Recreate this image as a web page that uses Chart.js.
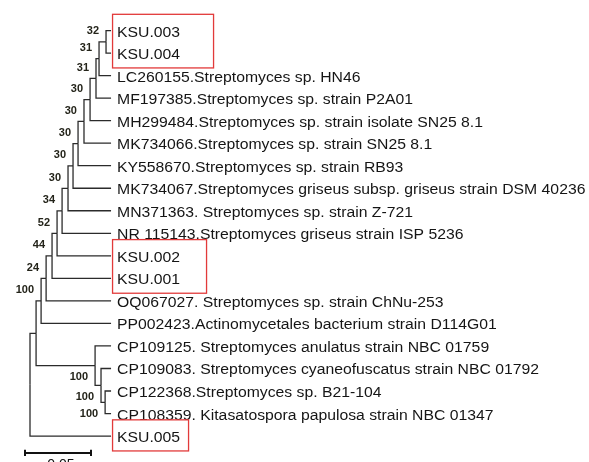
<!DOCTYPE html>
<html>
<head>
<meta charset="utf-8">
<script src="https://cdn.jsdelivr.net/npm/chart.js@4.4.1/dist/chart.umd.min.js"></script>
<style>
  html, body { margin: 0; padding: 0; background: #fff; }
  canvas { display: block; }
</style>
</head>
<body>
<canvas id="tree" width="589" height="462"></canvas>
<script>
// leaves, top to bottom
const leafNames = [
  'KSU.003',
  'KSU.004',
  'LC260155.Streptomyces sp. HN46',
  'MF197385.Streptomyces sp. strain P2A01',
  'MH299484.Streptomyces sp. strain isolate SN25 8.1',
  'MK734066.Streptomyces sp. strain SN25 8.1',
  'KY558670.Streptomyces sp. strain RB93',
  'MK734067.Streptomyces griseus subsp. griseus strain DSM 40236',
  'MN371363. Streptomyces sp. strain Z-721',
  'NR 115143.Streptomyces griseus strain ISP 5236',
  'KSU.002',
  'KSU.001',
  'OQ067027. Streptomyces sp. strain ChNu-253',
  'PP002423.Actinomycetales bacterium strain D114G01',
  'CP109125. Streptomyces anulatus strain NBC 01759',
  'CP109083. Streptomyces cyaneofuscatus strain NBC 01792',
  'CP122368.Streptomyces sp. B21-104',
  'CP108359. Kitasatospora papulosa strain NBC 01347',
  'KSU.005'
];

// internal nodes: children ('L' = leaf index, 'N' = node index)
const nodeChildren = [
  ['L0', 'L1'], ['N0', 'L2'], ['N1', 'L3'], ['N2', 'L4'], ['N3', 'L5'],
  ['N4', 'L6'], ['N5', 'L7'], ['N6', 'L8'], ['N7', 'L9'], ['N8', 'L10'],
  ['N9', 'L11'], ['N10', 'L12'], ['N11', 'L13'],
  ['L16', 'L17'], ['L15', 'N13'], ['L14', 'N14'],
  ['N12', 'N15'], ['N16', 'L18']
];

// node heights (distance above the tips)
const nodeHeights = [
  0.0038, 0.0091, 0.0114, 0.0159, 0.0205, 0.0250, 0.0288, 0.0326, 0.0371,
  0.0409, 0.0447, 0.0492, 0.0530,
  0.0045, 0.0076, 0.0121,
  0.0568, 0.0614
];

// bootstrap support per node
const bootstrap = [32, 31, 31, 30, 30, 30, 30, 30, 34, 52, 44, 24, 100, 100, 100, 100, null, null];

// boxed isolates (first leaf, last leaf)
const highlighted = [[0, 1], [10, 11], [18, 18]];

const scaleBarLength = 0.05;

// --- layout helpers ---
const labelBelow = [13, 14, 15];
const boxWidths = [101, 94, 76];
const rootIdx = nodeChildren.length - 1;
const rootHeight = nodeHeights[rootIdx];

const nodeY = [];
function yOf(ref) {
  const i = +ref.slice(1);
  if (ref[0] === 'L') return i;
  if (nodeY[i] === undefined) {
    nodeY[i] = (yOf(nodeChildren[i][0]) + yOf(nodeChildren[i][1])) / 2;
  }
  return nodeY[i];
}
function xOf(ref) {
  const i = +ref.slice(1);
  return ref[0] === 'L' ? rootHeight : rootHeight - nodeHeights[i];
}
nodeChildren.forEach((_, i) => yOf('N' + i));

const lineColor = '#2b2b2b';
const datasets = [];
nodeChildren.forEach((kids, i) => {
  const nx = rootHeight - nodeHeights[i];
  const ny = nodeY[i];
  kids.forEach((k) => {
    datasets.push({
      data: [{ x: nx, y: ny }, { x: nx, y: yOf(k) }, { x: xOf(k), y: yOf(k) }],
      showLine: true,
      borderColor: lineColor,
      borderWidth: 1.3,
      pointRadius: 0,
      fill: false
    });
  });
});

// scale bar
const barY = 18.75;
const barX0 = -0.0038;
datasets.push({
  data: [{ x: barX0, y: barY }, { x: barX0 + scaleBarLength, y: barY }],
  showLine: true, borderColor: '#111', borderWidth: 2, pointRadius: 0
});
[barX0, barX0 + scaleBarLength].forEach((x) => {
  datasets.push({
    data: [{ x: x, y: barY - 0.14 }, { x: x, y: barY + 0.14 }],
    showLine: true, borderColor: '#111', borderWidth: 2, pointRadius: 0
  });
});

const treeText = {
  id: 'treeText',
  afterDraw(chart) {
    const { ctx } = chart;
    const xs = chart.scales.x;
    const ys = chart.scales.y;
    ctx.save();

    // leaf names
    ctx.fillStyle = '#151515';
    ctx.font = '14px Arial, "Liberation Sans", sans-serif';
    ctx.textAlign = 'left';
    ctx.textBaseline = 'alphabetic';
    const tipPx = xs.getPixelForValue(rootHeight);
    leafNames.forEach((name, i) => {
      ctx.save();
      ctx.translate(tipPx + 6, ys.getPixelForValue(i) + 6);
      ctx.scale(1.125, 1);
      ctx.fillText(name, 0, 0);
      ctx.restore();
    });

    // bootstrap values
    ctx.font = 'bold 10px Arial, "Liberation Sans", sans-serif';
    ctx.textAlign = 'right';
    ctx.fillStyle = '#24241a';
    bootstrap.forEach((b, i) => {
      if (b === null) return;
      const px = xs.getPixelForValue(rootHeight - nodeHeights[i]);
      const py = ys.getPixelForValue(nodeY[i]);
      const off = labelBelow.includes(i) ? 11 : -11;
      ctx.save();
      ctx.translate(px - 7, py + off + 3.5);
      ctx.scale(1.1, 1);
      ctx.fillText(String(b), 0, 0);
      ctx.restore();
    });

    // red boxes around isolates
    ctx.strokeStyle = '#e23a3a';
    ctx.lineWidth = 1.3;
    highlighted.forEach(([a, b], k) => {
      const top = ys.getPixelForValue(a - 0.72);
      const bot = ys.getPixelForValue(b + 0.66);
      ctx.strokeRect(tipPx + 1.5, top, boxWidths[k], bot - top);
    });

    // scale bar label
    ctx.font = '14px Arial, "Liberation Sans", sans-serif';
    ctx.textAlign = 'center';
    ctx.fillStyle = '#111';
    const mid = xs.getPixelForValue(barX0 + scaleBarLength / 2);
    ctx.fillText(String(scaleBarLength), mid + 3, ys.getPixelForValue(barY) + 16);
    ctx.restore();
  }
};

new Chart(document.getElementById('tree'), {
  type: 'scatter',
  data: { datasets },
  options: {
    responsive: false,
    animation: false,
    devicePixelRatio: 1,
    layout: { padding: { left: 4, right: 0, top: 8, bottom: 3.4 } },
    plugins: { legend: { display: false }, tooltip: { enabled: false } },
    scales: {
      x: { type: 'linear', display: false, min: -0.0197, max: -0.0197 + 585 / 1320 },
      y: { type: 'linear', display: false, reverse: true, min: -1, max: 19 }
    }
  },
  plugins: [treeText]
});
</script>
</body>
</html>
